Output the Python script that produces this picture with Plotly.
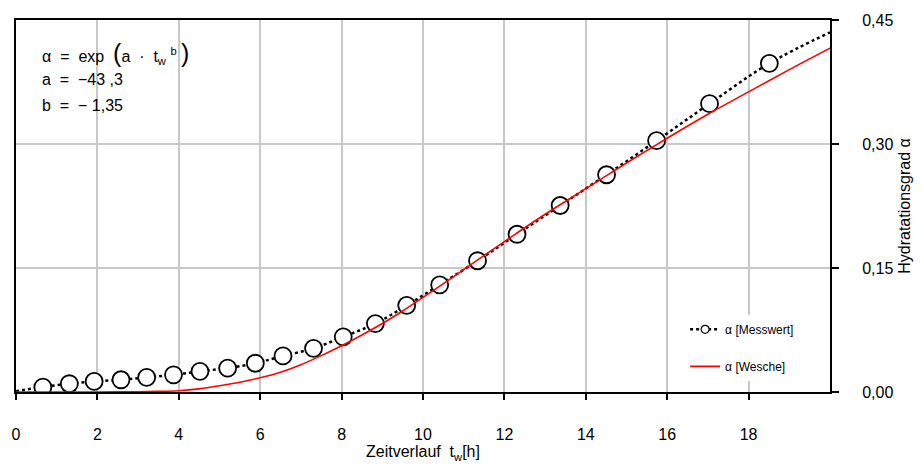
import plotly.graph_objects as go

# Measured degree of hydration over time
t_mess = [0.66, 1.31, 1.92, 2.58, 3.21, 3.87, 4.52, 5.20, 5.88, 6.56, 7.31,
          8.04, 8.83, 9.60, 10.41, 11.34, 12.31, 13.37, 14.51, 15.74, 17.04, 18.51]
alpha_mess = [0.006, 0.010, 0.0128, 0.0148, 0.0176, 0.0208, 0.0250, 0.0290, 0.0348,
              0.0436, 0.0528, 0.0668, 0.0828, 0.1048, 0.1296, 0.1588, 0.1908, 0.2256,
              0.2628, 0.304, 0.3488, 0.3976]
# start and end of the dotted measurement line
t_mess_ends = [0.0, 20.0]
alpha_mess_ends = [0.001, 0.435]

# Model curve (Wesche)
t_wesche = [0, 1, 2, 3, 3.5, 4, 4.5, 5, 5.5, 6, 6.5, 7, 7.5, 8, 8.5, 9, 9.5, 10,
            10.5, 11, 12, 13, 14, 15, 16, 17, 18, 19, 20]
alpha_wesche = [0, 0, 0, 0.0003, 0.0007, 0.0015, 0.0038, 0.0075, 0.0118, 0.0172,
                0.0240, 0.0330, 0.0440, 0.0560, 0.0690, 0.0828, 0.0980, 0.1145,
                0.1310, 0.1480, 0.1820, 0.2150, 0.2460, 0.2770, 0.3070, 0.3360,
                0.3630, 0.3900, 0.4160]

x_ticks = [0, 2, 4, 6, 8, 10, 12, 14, 16, 18]
y_ticks = [0.0, 0.15, 0.30, 0.45]

FONT = "Liberation Sans, Arial, sans-serif"

line_t = [t_mess_ends[0]] + t_mess + [t_mess_ends[1]]
line_a = [alpha_mess_ends[0]] + alpha_mess + [alpha_mess_ends[1]]

fig = go.Figure()

# dotted connecting line of the measurements
fig.add_trace(go.Scatter(
    x=line_t, y=line_a, mode="lines", showlegend=False,
    line=dict(color="black", width=2.5, dash="dot", shape="spline"),
    hoverinfo="skip"))

# measurement markers
fig.add_trace(go.Scatter(
    x=t_mess, y=alpha_mess, mode="markers", showlegend=False,
    marker=dict(symbol="circle", size=17, color="white",
                line=dict(color="black", width=1.8))))

# legend entry for the measurements
fig.add_trace(go.Scatter(
    x=[None], y=[None], mode="lines+markers", name="α [Messwert]",
    legendrank=1, legendgroup="m",
    line=dict(color="black", width=2.5, dash="dot"),
    marker=dict(symbol="circle", size=8, color="white",
                line=dict(color="black", width=1.2))))

# model curve
fig.add_trace(go.Scatter(
    x=t_wesche, y=alpha_wesche, mode="lines", name="α [Wesche]",
    legendrank=2, legendgroup="w",
    line=dict(color="#ff0000", width=1.6, shape="spline", smoothing=0.8)))

fig.add_annotation(
    xref="paper", yref="paper", x=0.03, y=0.912, xanchor="left", yanchor="middle",
    showarrow=False, align="left",
    text=("α  =  exp  <span style='font-size:25px'>(</span>a  ·  t<sub>w</sub> <sup>b</sup> "
          "<span style='font-size:25px'>)</span>"),
    font=dict(family=FONT, size=16, color="black"))
fig.add_annotation(
    xref="paper", yref="paper", x=0.03, y=0.840, xanchor="left", yanchor="middle",
    showarrow=False, align="left", text="a  =  −43 ,3",
    font=dict(family=FONT, size=16, color="black"))
fig.add_annotation(
    xref="paper", yref="paper", x=0.03, y=0.771, xanchor="left", yanchor="middle",
    showarrow=False, align="left", text="b  =  − 1,35",
    font=dict(family=FONT, size=16, color="black"))

fig.update_layout(
    width=923, height=469,
    margin=dict(l=15, r=85, t=19, b=75),
    paper_bgcolor="white", plot_bgcolor="white",
    separators=",.",
    font=dict(family=FONT, size=16, color="black"),
    showlegend=True,
    legend=dict(
        x=0.822, y=0.03, xanchor="left", yanchor="bottom",
        bgcolor="white", borderwidth=0,
        font=dict(family=FONT, size=12, color="black"),
        tracegroupgap=18),
)

fig.update_xaxes(
    range=[0, 20], tickvals=x_ticks,
    showgrid=True, gridcolor="#c8c8c8", gridwidth=1.5,
    showline=True, linecolor="black", linewidth=2, mirror=True,
    ticks="outside", ticklen=6, tickwidth=2, tickcolor="black",
    ticklabelstandoff=21, zeroline=False,
    tickfont=dict(family=FONT, size=16),
    title=dict(text="Zeitverlauf  t<sub>w</sub>[h]", standoff=3,
               font=dict(family=FONT, size=16)),
)

fig.update_yaxes(
    range=[0, 0.45], tickvals=y_ticks, tickformat=".2f", side="right",
    showgrid=True, gridcolor="#c8c8c8", gridwidth=1.5,
    showline=True, linecolor="black", linewidth=2, mirror=True,
    ticks="outside", ticklen=7, tickwidth=2, tickcolor="black",
    ticklabelstandoff=20, zeroline=False,
    tickfont=dict(family=FONT, size=16),
    title=dict(text="Hydratationsgrad α", standoff=6,
               font=dict(family=FONT, size=16)),
)

fig.write_html("out.html")
